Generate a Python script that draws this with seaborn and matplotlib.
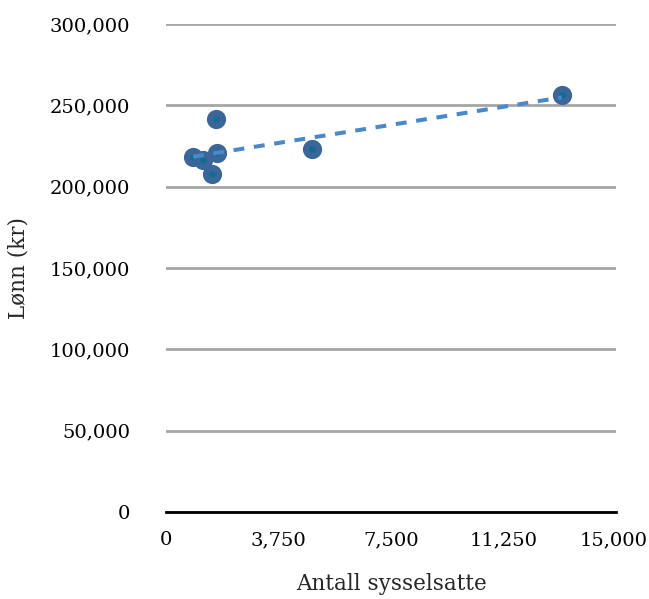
import matplotlib
matplotlib.use("Agg")
import matplotlib.pyplot as plt
import matplotlib.ticker as mticker
import matplotlib.transforms as mtrans
import seaborn as sns
import pandas as pd

# Data
sysselsatte = [1656, 900, 1233, 1700, 1533, 4867, 13190]
lonn = [241500, 218200, 216500, 220700, 208000, 223000, 256600]

x_ticks = [0, 3750, 7500, 11250, 15000]
y_ticks = [0, 50000, 100000, 150000, 200000, 250000, 300000]

df = pd.DataFrame({"Antall sysselsatte": sysselsatte, "Lønn (kr)": lonn})

sns.set_style("white")
plt.rcParams["font.family"] = ["DejaVu Serif"]

fig = plt.figure(figsize=(6.49, 5.99), dpi=100)
ax = fig.add_axes([0.2558, 0.1452, 0.6934, 0.8148])

sns.scatterplot(data=df, x="Antall sysselsatte", y="Lønn (kr)", ax=ax,
                s=85, color="#0c6f8c", edgecolor="#3a6699", linewidth=4.6,
                zorder=3, legend=False)
sns.regplot(data=df, x="Antall sysselsatte", y="Lønn (kr)", ax=ax,
            scatter=False, ci=None, truncate=True,
            line_kws=dict(color="#4a88cc", lw=2.9, dashes=(2.7, 2.4),
                          zorder=4, solid_capstyle="butt"))

ax.set_xlim(0, 15000)
ax.set_ylim(0, 300000)
ax.set_xticks(x_ticks)
ax.set_yticks(y_ticks)
fmt = mticker.FuncFormatter(lambda v, p: f"{int(v):,}")
ax.xaxis.set_major_formatter(fmt)
ax.yaxis.set_major_formatter(fmt)
ax.tick_params(axis="both", length=0, labelsize=14, colors="black")
ax.tick_params(axis="y", pad=26)
ax.tick_params(axis="x", pad=14)

ax.yaxis.grid(True, color="#a6a6a6", linewidth=2)
ax.xaxis.grid(False)
ax.set_axisbelow(True)
for s in ["left", "right", "top"]:
    ax.spines[s].set_visible(False)
ax.spines["bottom"].set_color("black")
ax.spines["bottom"].set_linewidth(2)
ax.spines["bottom"].set_zorder(2.5)

ax.set_xlabel("Antall sysselsatte", fontsize=15.5, labelpad=17)
ax.set_ylabel("Lønn (kr)", fontsize=15.5, labelpad=14)

# keep last x tick label inside figure
fig.canvas.draw()
last = ax.get_xticklabels()[-1]
last.set_horizontalalignment("right")
last.set_transform(last.get_transform() + mtrans.ScaledTranslation(32 / 100, 0, fig.dpi_scale_trans))

fig.savefig("out.png", dpi=100)
